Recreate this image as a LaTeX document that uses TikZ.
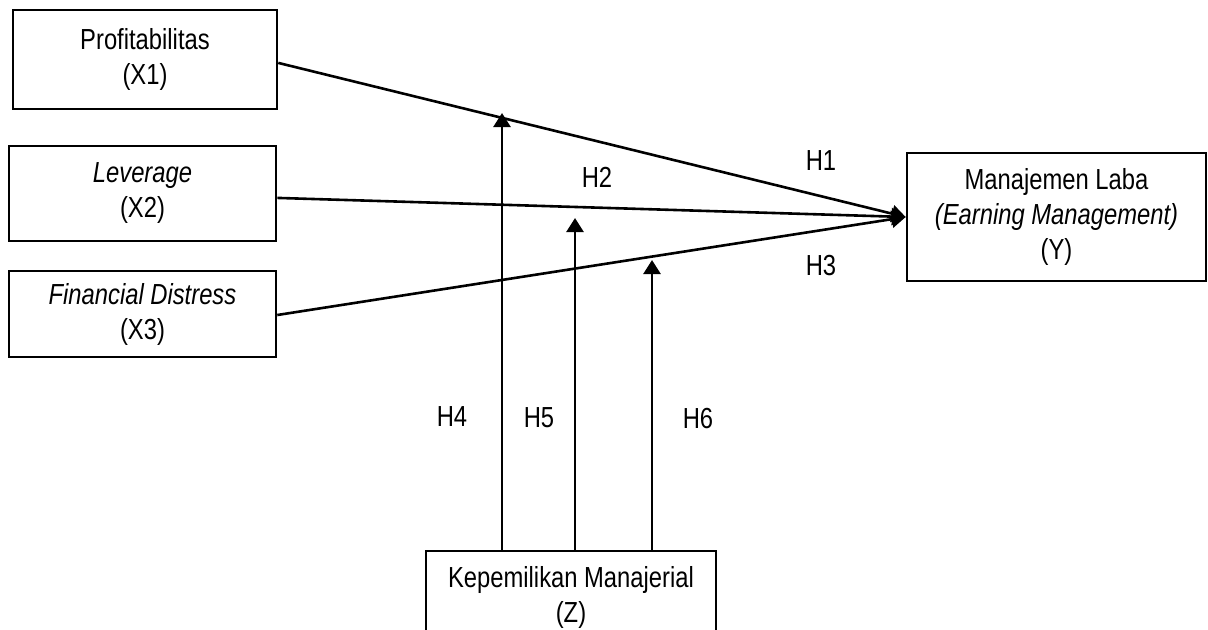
\documentclass[tikz,border=0pt]{standalone}
\usepackage{fontspec}
\setmainfont{Liberation Sans}[FakeStretch=0.82]
\usepackage{tikz}
\usetikzlibrary{arrows.meta}

\begin{document}
\begin{tikzpicture}[x=0.5pt, y=-0.5pt, line width=1.3pt,
  varbox/.style={draw, rectangle, align=center, inner sep=0pt, font=\fontsize{14.5}{17.5}\selectfont},
  hyp/.style={font=\fontsize{14.5}{17}\selectfont, inner sep=0pt},
  arr/.style={-{Triangle[length=7pt, width=8.5pt]}}]
\useasboundingbox (0, 0) rectangle (1208, 629);
\node[varbox, minimum width=132pt, minimum height=49.5pt] (x1) at (145, 59.5) {Profitabilitas\\(X1)};
\node[varbox, minimum width=133.5pt, minimum height=47.5pt] (x2) at (142.5, 193.5) {\textit{Leverage}\\(X2)};
\node[varbox, minimum width=133.5pt, minimum height=43pt] (x3) at (142.5, 314) {\textit{Financial Distress}\\(X3)};
\node[varbox, minimum width=149.5pt, minimum height=64pt] (y) at (1056.5, 217) {Manajemen Laba\\\textit{(Earning Management)}\\(Y)};
\node[varbox, minimum width=145pt, minimum height=46pt] (z) at (571, 597) {Kepemilikan Manajerial\\(Z)};
\draw[arr] ([yshift=-1.7pt]x1.east) -- (y.west);
\draw[arr] ([yshift=-2.2pt]x2.east) -- (y.west);
\draw[arr] ([yshift=-0.5pt]x3.east) -- (y.west);
\coordinate (t4) at (502, 113);
\coordinate (t5) at (575, 218);
\coordinate (t6) at (652, 260);
\draw[arr] (z.north -| t4) -- (t4);
\draw[arr] (z.north -| t5) -- (t5);
\draw[arr] (z.north -| t6) -- (t6);
\node[hyp] (h1) at (821, 161) {H1};
\node[hyp] (h2) at (597, 177) {H2};
\node[hyp] (h3) at (821, 266) {H3};
\node[hyp] (h4) at (452, 417) {H4};
\node[hyp] (h5) at (539, 418) {H5};
\node[hyp] (h6) at (698, 418) {H6};
\end{tikzpicture}
\end{document}
